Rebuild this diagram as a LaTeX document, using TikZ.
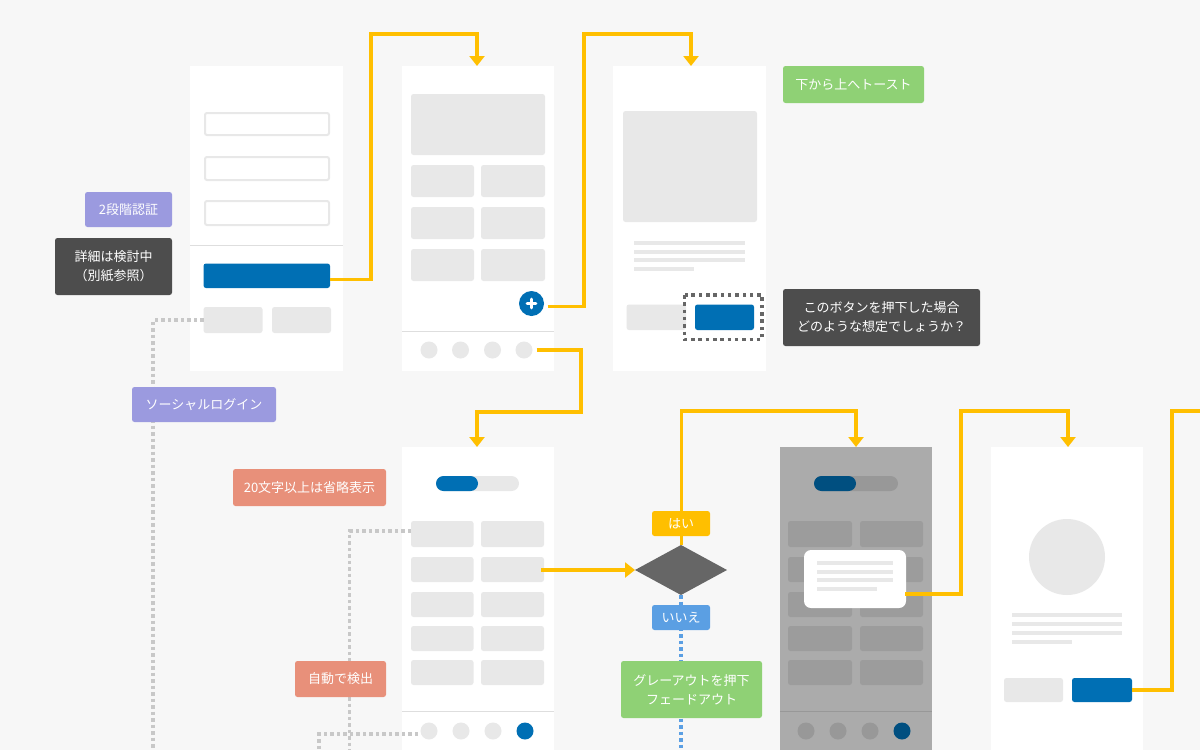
\documentclass[tikz,border=0pt]{standalone}
\usepackage{fontspec}
\setmainfont{Noto Sans CJK JP}
\usetikzlibrary{arrows.meta,shapes.geometric}
\definecolor{pagebg}{HTML}{F7F7F7}
\definecolor{wire}{HTML}{E8E8E8}
\definecolor{wireline}{HTML}{DEDEDE}
\definecolor{brand}{HTML}{006FB4}
\definecolor{branddim}{HTML}{004F80}
\definecolor{flow}{HTML}{FFBF00}
\definecolor{dimbg}{HTML}{ABABAB}
\definecolor{dimtile}{HTML}{9C9C9C}
\definecolor{dimline}{HTML}{989898}
\definecolor{dotgray}{HTML}{C8C8C8}
\definecolor{dotblue}{HTML}{5B9FE3}
\definecolor{lilac}{HTML}{9B9ADF}
\definecolor{ink}{HTML}{4D4D4D}
\definecolor{leaf}{HTML}{8FD175}
\definecolor{salmon}{HTML}{E8907A}
\definecolor{diamondgray}{HTML}{666666}
\definecolor{dashgray}{HTML}{666666}
\tikzset{
  boxbase/.style={inner sep=0pt,outer sep=0pt,draw=none,rectangle},
  screen/.style={boxbase,fill=white},
  dimscreen/.style={boxbase,fill=dimbg},
  tile/.style={boxbase,fill=wire,rounded corners=2.5pt},
  dimtilebox/.style={boxbase,fill=dimtile,rounded corners=2.5pt},
  textline/.style={boxbase,fill=wire},
  field/.style={boxbase,fill=white,draw=wire,line width=2pt,rounded corners=2pt},
  bluebtn/.style={boxbase,fill=brand,rounded corners=2.5pt},
  pill/.style={boxbase,fill=wire,rounded corners=7.5pt},
  dimpill/.style={boxbase,fill=dimline,rounded corners=7.5pt},
  pillon/.style={boxbase,fill=brand,rounded corners=7.5pt},
  dimpillon/.style={boxbase,fill=branddim,rounded corners=7.5pt},
  dialog/.style={boxbase,fill=white,rounded corners=7pt},
  dot/.style={circle,inner sep=0pt,outer sep=0pt,minimum size=17pt,fill=wire},
  dimdot/.style={dot,fill=dimline},
  tag/.style={boxbase,rounded corners=2.5pt,text=white,align=center,font=\fontsize{13}{19}\selectfont},
  conn/.style={draw=flow,line width=3.5pt,miter limit=10},
  connarrow/.style={conn,-{Triangle[width=15pt,length=10pt]}},
  graydots/.style={draw=dotgray,line width=3.5pt,dash pattern=on 3.5pt off 3pt},
  bluedots/.style={draw=dotblue,line width=3.5pt,dash pattern=on 3.5pt off 3pt},
}
\newcommand{\wfbox}[6]{\node[#1,minimum width={(#5-#3)*1pt},minimum height={(#6-#4)*1pt}] (#2) at ({(#3+#5)/2},{(#4+#6)/2}) {};}
\newcommand{\wftag}[7]{\node[tag,fill=#1,minimum width={(#5-#3)*1pt},minimum height={(#6-#4)*1pt}] (#2) at ({(#3+#5)/2},{(#4+#6)/2}) {#7};}
\begin{document}
\begin{tikzpicture}[x=1pt,y=-1pt]
\useasboundingbox (0,0) rectangle (1200,750);
\fill[pagebg] (0,0) rectangle (1200,750);

% screen 1
\wfbox{screen}{sA}{190}{66}{343}{371}
\wfbox{field}{fA}{205}{113}{329}{135}
\wfbox{field}{fB}{205}{157}{329}{180}
\wfbox{field}{fC}{205}{201}{329}{225}
\draw[wireline,line width=1pt] (190,245) -- (343,245);
\wfbox{bluebtn}{loginbtn}{203.5}{263.5}{330}{288}
\wfbox{tile}{socA}{203.5}{307}{262.5}{333}
\wfbox{tile}{socB}{272}{307}{331}{333}

% screen 2
\wfbox{screen}{sB}{402}{66}{554}{371}
\wfbox{tile}{hero}{411}{94}{545}{155}
\wfbox{tile}{bA}{411}{165}{474}{197}
\wfbox{tile}{bB}{481}{165}{545}{197}
\wfbox{tile}{bC}{411}{207}{474}{239}
\wfbox{tile}{bD}{481}{207}{545}{239}
\wfbox{tile}{bE}{411}{249}{474}{281}
\wfbox{tile}{bF}{481}{249}{545}{281}
\draw[wireline,line width=1pt] (402,331) -- (554,331);
\node[dot] (bdA) at (429,350) {};
\node[dot] (bdB) at (460.5,350) {};
\node[dot] (bdC) at (492.5,350) {};
\node[dot] (bdD) at (524,350) {};
\node[circle,fill=brand,minimum size=25pt,inner sep=0pt,outer sep=0pt] (plus) at (531.5,303.5) {};
\draw[white,line width=2.8pt,line cap=round] ([xshift=-4.5pt]plus.center) -- ([xshift=4.5pt]plus.center);
\draw[white,line width=2.8pt,line cap=round] ([yshift=-4.5pt]plus.center) -- ([yshift=4.5pt]plus.center);

% screen 3
\wfbox{screen}{sC}{613}{66}{766}{371}
\wfbox{tile}{img}{623}{111}{757}{222}
\wfbox{textline}{cA}{634}{241}{745}{245}
\wfbox{textline}{cB}{634}{250}{745}{254}
\wfbox{textline}{cC}{634}{258}{745}{262}
\wfbox{textline}{cD}{634}{267}{694}{271}
\wfbox{tile}{cancel}{626.5}{304.5}{686}{330}
\wfbox{bluebtn}{okbtn}{695}{304.5}{754}{330}
\draw[dashgray,line width=3.5pt,dash pattern=on 3.5pt off 3.8pt] (684.5,295) rectangle (762,339.5);

% screen 4
\wfbox{screen}{sD}{402}{447}{554}{750}
\wfbox{pill}{pD}{436}{476}{519}{491}
\wfbox{pillon}{pDon}{436}{476}{478}{491}
\wfbox{tile}{dA}{411}{521}{473.5}{547}
\wfbox{tile}{dB}{481}{521}{544}{547}
\wfbox{tile}{dC}{411}{557}{473.5}{582}
\wfbox{tile}{dD}{481}{557}{544}{582}
\wfbox{tile}{dE}{411}{592}{473.5}{617}
\wfbox{tile}{dF}{481}{592}{544}{617}
\wfbox{tile}{dG}{411}{626}{473.5}{651}
\wfbox{tile}{dH}{481}{626}{544}{651}
\wfbox{tile}{dI}{411}{660}{473.5}{685}
\wfbox{tile}{dJ}{481}{660}{544}{685}
\draw[wireline,line width=1pt] (402,711) -- (554,711);
\node[dot] (ddA) at (429,731) {};
\node[dot] (ddB) at (461,731) {};
\node[dot] (ddC) at (493,731) {};
\node[dot,fill=brand] (ddD) at (525,731) {};

% screen 5 (dimmed)
\wfbox{dimscreen}{sE}{780}{447}{932}{750}
\wfbox{dimpill}{pE}{814}{476}{898}{491}
\wfbox{dimpillon}{pEon}{814}{476}{856}{491}
\wfbox{dimtilebox}{eA}{788}{521}{852}{547}
\wfbox{dimtilebox}{eB}{860}{521}{923}{547}
\wfbox{dimtilebox}{eC}{788}{557}{852}{582}
\wfbox{dimtilebox}{eD}{860}{557}{923}{582}
\wfbox{dimtilebox}{eE}{788}{592}{852}{617}
\wfbox{dimtilebox}{eF}{860}{592}{923}{617}
\wfbox{dimtilebox}{eG}{788}{626}{852}{651}
\wfbox{dimtilebox}{eH}{860}{626}{923}{651}
\wfbox{dimtilebox}{eI}{788}{660}{852}{685}
\wfbox{dimtilebox}{eJ}{860}{660}{923}{685}
\draw[dimline,line width=1pt] (780,711) -- (932,711);
\node[dimdot] (edA) at (806,731) {};
\node[dimdot] (edB) at (838,731) {};
\node[dimdot] (edC) at (870,731) {};
\node[dimdot,fill=branddim] (edD) at (902,731) {};
\wfbox{dialog}{toast}{804}{550}{906}{608}
\wfbox{textline}{tA}{817}{561}{893}{565}
\wfbox{textline}{tB}{817}{570}{893}{574}
\wfbox{textline}{tC}{817}{578}{893}{582}
\wfbox{textline}{tD}{817}{587}{877}{591}

% screen 6
\wfbox{screen}{sF}{991}{447}{1143}{750}
\node[circle,fill=wire,minimum size=76pt,inner sep=0pt,outer sep=0pt] (avatar) at (1067,557) {};
\wfbox{textline}{fA1}{1012}{613}{1122}{617}
\wfbox{textline}{fA2}{1012}{622}{1122}{626}
\wfbox{textline}{fA3}{1012}{631}{1122}{635}
\wfbox{textline}{fA4}{1012}{640}{1072}{644}
\wfbox{tile}{fgray}{1004}{678}{1063}{702}
\wfbox{bluebtn}{fblue}{1072}{678}{1132}{702}

% dotted connectors
\coordinate (ga) at (153,320);
\coordinate (gaend) at (153,750);
\coordinate (gb) at (349.5,531);
\coordinate (gbend) at (349.5,750);
\coordinate (gc) at (319,734);
\coordinate (gcend) at (319,750);
\coordinate (noend) at (681,750);
\draw[graydots] (socA.west) -- (ga) -- (gaend);
\draw[graydots] (dA.west |- gb) -- (gb) -- (gbend);
\draw[graydots] ([xshift=-2.5pt,yshift=-3pt]ddA.west) -- (gc) -- (gcend);

% decision
\node[diamond,fill=diamondgray,inner sep=0pt,outer sep=0pt,minimum width=92pt,minimum height=50pt,aspect=1.84] (choice) at (681,570) {};
\draw[bluedots] (choice.south) -- (noend);

% solid connectors
\coordinate (fa) at (371,34);
\coordinate (fb) at (584,34);
\coordinate (fc) at (581,412);
\coordinate (fd) at (681.5,411);
\coordinate (fe) at (961,411);
\coordinate (ff) at (1172,411);
\coordinate (ffend) at (1200,411);
\coordinate (intoC) at (691,66);
\coordinate (intoE) at (856,447);
\draw[connarrow] ([yshift=-3.5pt]loginbtn.east) -| (fa) -| ([xshift=-1pt]sB.north);
\draw[connarrow] ([xshift=3.5pt,yshift=-3pt]plus.east) -| (fb) -| (intoC);
\draw[connarrow] ([xshift=4pt]bdD.east) -| (fc) -| ([xshift=-1pt]sD.north);
\draw[connarrow] (choice.west -| dD.east) ++(-3,0) -- (choice.west);
\draw[connarrow] (choice.north -| fd) -- (fd) -| (intoE);
\draw[connarrow] ([xshift=-1pt,yshift=-15pt]toast.east) -| (fe) -| ([xshift=1pt]sF.north);
\draw[conn] (fblue.east) -| (ff) -- (ffend);

% labels
\wftag{lilac}{twofa}{85}{192}{172}{227}{2段階認証}
\wftag{ink}{detail}{55}{238}{172}{295}{詳細は検討中\\（別紙参照）}
\wftag{lilac}{social}{132}{387}{276}{422}{ソーシャルログイン}
\wftag{leaf}{toastnote}{783}{66}{924}{103}{下から上へトースト}
\wftag{ink}{ask}{783}{289}{980}{346}{このボタンを押下した場合\\どのような想定でしょうか？}
\wftag{salmon}{truncate}{233}{469}{386}{506}{20文字以上は省略表示}
\wftag{salmon}{autodetect}{295}{661}{386}{697}{自動で検出}
\wftag{flow}{yes}{652}{511}{710}{536}{はい}
\wftag{dotblue}{no}{652}{605}{710}{630}{いいえ}
\wftag{leaf}{fadeout}{621}{661}{762}{718}{グレーアウトを押下\\フェードアウト}
\end{tikzpicture}
\end{document}
